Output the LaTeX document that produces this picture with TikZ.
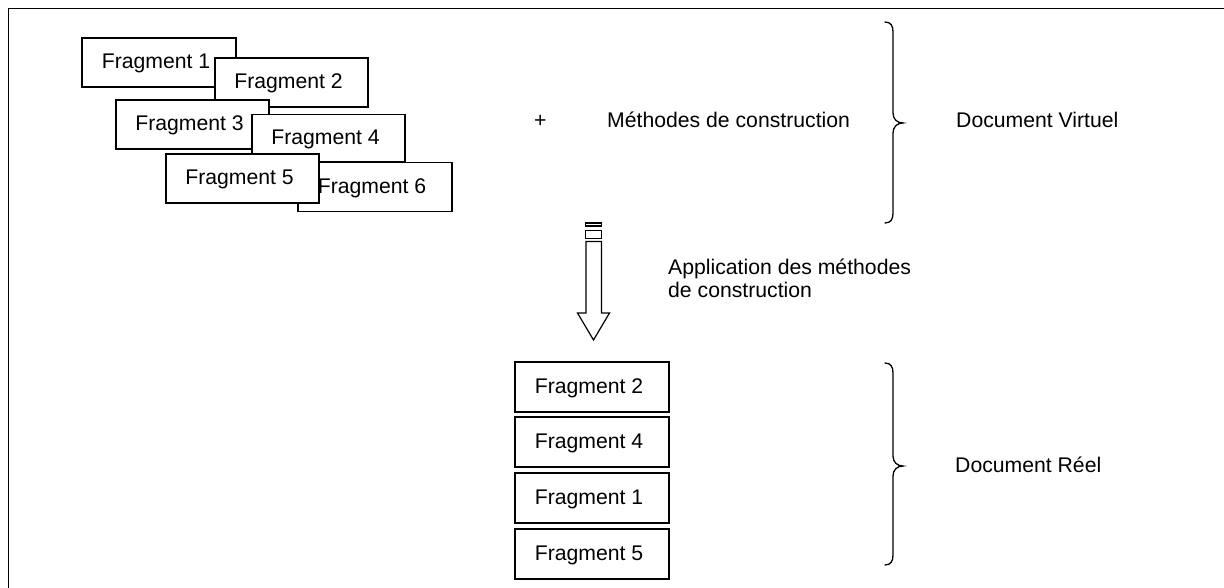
\documentclass[tikz,border=0pt]{standalone}
\usepackage{fontspec}
\setmainfont{Liberation Sans}
\begin{document}
\begin{tikzpicture}[x=1pt,y=-1pt,
  every node/.style={font=\fontsize{21.2}{23}\selectfont},
  frag/.style={draw,line width=1.2pt,fill=white,minimum width=154pt,minimum height=49pt,inner sep=0pt,
    text height=15pt,text depth=2pt,execute at begin node={\hspace*{-6pt}}},
  lbl/.style={anchor=base west,inner sep=0pt},
  brace/.style={line width=1.3pt,line cap=round},
  arr/.style={draw,line width=1.2pt,fill=white}]
\useasboundingbox (0,0) rectangle (1224,588);
% frame
\draw[line width=1.6pt] (8.5,588) -- (8.5,8.5) -- (1224,8.5);
% virtual fragments
\node[frag] (f1) at (159,62.5) {Fragment 1};
\node[frag,minimum width=153pt] (f2) at (291.5,82.5) {Fragment 2};
\node[frag,minimum width=153pt] (f3) at (192.5,124.5) {Fragment 3};
\node[frag,minimum width=153pt,minimum height=47pt] (f4) at (328.5,138) {Fragment 4};
\node[frag] (f6) at (375,187) {Fragment 6};
\node[frag,minimum width=153pt] (f5) at (242.5,178.5) {Fragment 5};
% plus and methods
\node[lbl] (plus) at (534,128) {+};
\node[lbl] (meth) at (607,128) {Méthodes de construction};
\node[lbl] (dv) at (956,128) {Document Virtuel};
% brace 1
\draw[brace] (885,22) .. controls (891,22) and (893,26) .. (893,32) -- (893,113)
  .. controls (893,119) and (897,123) .. (903,123)
  .. controls (897,123) and (893,127) .. (893,133) -- (893,213)
  .. controls (893,219) and (891,223) .. (885,223);
% striped arrow
\draw[arr] (585.5,223) rectangle (601.5,226);
\draw[arr] (585.5,230.5) rectangle (601.5,238.5);
\draw[arr] (586,241.5) -- (601.5,241.5) -- (601.5,313) -- (609.5,313) -- (593.5,340)
  -- (577.5,313) -- (586,313) -- cycle;
\node[lbl,align=left,anchor=north west] (app) at (668,259) {Application des méthodes\\de construction};
% real document
\node[frag,minimum height=50pt] (r2) at (592,387) {Fragment 2};
\node[frag,minimum height=50pt] (r4) at (592,442) {Fragment 4};
\node[frag,minimum height=50pt] (r1) at (592,498) {Fragment 1};
\node[frag,minimum height=50pt] (r5) at (592,554) {Fragment 5};
\node[lbl] (dr) at (955,472) {Document Réel};
% brace 2
\draw[brace] (885,363) .. controls (891,363) and (893,367) .. (893,373) -- (893,456)
  .. controls (893,462) and (897,466) .. (903,466)
  .. controls (897,466) and (893,470) .. (893,476) -- (893,555)
  .. controls (893,561) and (891,565) .. (885,565);
\end{tikzpicture}
\end{document}
